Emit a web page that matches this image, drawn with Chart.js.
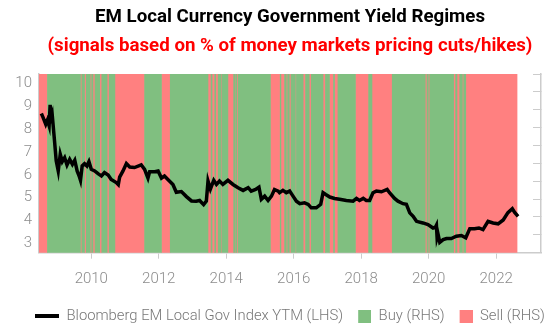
<!DOCTYPE html>
<html lang="en">
  <head>
    <meta charset="UTF-8" />
    <title>EM Local Currency Government Yield Regimes</title>
    <script src="https://cdn.jsdelivr.net/npm/chart.js@4.4.1/dist/chart.umd.min.js"></script>
    <style>
      body { margin: 0; background: #fff; }
      #wrap { width: 554px; height: 335px; }
    </style>
  </head>
  <body>
    <div id="wrap"><canvas id="chart"></canvas></div>
    <script>
      // Bloomberg EM local gov index yield (decimal years)
      var yieldDates = [2008.52, 2008.57, 2008.65, 2008.70, 2008.75, 2008.78, 2008.81, 2008.84, 2008.91, 2008.96,
        2009.02, 2009.08, 2009.14, 2009.21, 2009.28, 2009.36, 2009.44, 2009.51, 2009.58, 2009.64,
        2009.68, 2009.73, 2009.80, 2009.87, 2009.93, 2010.00, 2010.10, 2010.20, 2010.30, 2010.39,
        2010.50, 2010.59, 2010.74, 2010.80, 2010.84, 2010.94, 2011.04, 2011.14, 2011.28, 2011.48,
        2011.58, 2011.68, 2011.73, 2011.88, 2011.98, 2012.08, 2012.17, 2012.27, 2012.42, 2012.52,
        2012.67, 2012.82, 2012.97, 2013.11, 2013.21, 2013.33, 2013.41, 2013.46, 2013.53, 2013.63,
        2013.71, 2013.80, 2013.90, 2014.05, 2014.20, 2014.35, 2014.50, 2014.65, 2014.74, 2014.87,
        2014.97, 2015.04, 2015.14, 2015.24, 2015.34, 2015.43, 2015.54, 2015.58, 2015.68, 2015.78,
        2015.88, 2015.98, 2016.08, 2016.18, 2016.32, 2016.43, 2016.52, 2016.67, 2016.80, 2016.87,
        2016.95, 2017.07, 2017.21, 2017.36, 2017.56, 2017.76, 2017.86, 2017.95, 2018.06, 2018.15,
        2018.25, 2018.35, 2018.45, 2018.60, 2018.77, 2018.84, 2018.99, 2019.09, 2019.24, 2019.34,
        2019.44, 2019.54, 2019.64, 2019.83, 2019.98, 2020.13, 2020.20, 2020.23, 2020.25, 2020.28,
        2020.33, 2020.43, 2020.53, 2020.67, 2020.82, 2020.97, 2021.10, 2021.22, 2021.36, 2021.49,
        2021.61, 2021.76, 2021.91, 2022.06, 2022.21, 2022.35, 2022.48, 2022.55, 2022.65];
      var yieldValues = [8.68, 8.51, 8.21, 8.39, 8.14, 9.06, 8.51, 8.65, 7.48, 6.61,
        6.17, 6.90, 6.58, 6.75, 6.43, 6.68, 6.46, 6.64, 6.17, 5.95,
        5.76, 6.39, 6.49, 6.39, 6.58, 6.24, 6.17, 6.05, 5.95, 6.10,
        5.99, 5.80, 5.66, 5.57, 5.90, 6.17, 6.49, 6.34, 6.32, 6.44,
        6.24, 5.86, 6.14, 6.14, 6.17, 5.86, 5.95, 5.80, 5.58, 5.24,
        5.27, 5.05, 4.86, 4.85, 4.88, 4.70, 4.85, 5.73, 5.38, 5.76,
        5.58, 5.73, 5.58, 5.76, 5.58, 5.44, 5.32, 5.44, 5.29, 5.36,
        5.46, 4.93, 5.07, 4.88, 5.07, 5.36, 5.29, 5.22, 5.32, 5.22,
        5.29, 5.07, 4.85, 4.74, 4.78, 4.71, 4.56, 4.56, 4.71, 5.22,
        5.14, 5.03, 4.97, 4.93, 4.88, 4.85, 4.97, 4.88, 4.97, 4.88,
        4.88, 5.22, 5.29, 5.26, 5.36, 5.22, 4.97, 4.85, 4.74, 4.71,
        4.34, 4.19, 3.97, 3.90, 3.83, 3.68, 3.71, 3.80, 3.25, 3.40,
        3.05, 3.17, 3.22, 3.22, 3.32, 3.35, 3.25, 3.65, 3.65, 3.68,
        3.61, 3.97, 3.90, 3.86, 4.03, 4.35, 4.52, 4.36, 4.19];

      // regime signal: each period runs from its start to the next start
      var regimeStart = [2008.45, 2008.70, 2009.68, 2009.72, 2009.80, 2009.85, 2009.97, 2010.01, 2010.05, 2010.11,
        2010.25, 2010.31, 2010.47, 2010.53, 2010.70, 2011.58, 2012.08, 2012.34, 2013.46, 2013.55,
        2013.58, 2013.66, 2013.69, 2013.76, 2013.84, 2013.87, 2014.05, 2014.22, 2014.25, 2014.28,
        2014.31, 2014.35, 2015.31, 2015.60, 2015.62, 2015.73, 2015.78, 2015.82, 2015.87, 2015.92,
        2016.05, 2016.08, 2016.28, 2016.35, 2016.46, 2016.52, 2016.87, 2016.94, 2017.06, 2017.18,
        2017.21, 2017.31, 2017.83, 2018.22, 2018.32, 2018.92, 2019.90, 2019.95, 2019.99, 2020.03,
        2020.74, 2020.80, 2020.84, 2020.92, 2021.00, 2021.04, 2021.10];
      var regimeSignal = ["Sell", "Buy", "Sell", "Buy", "Sell", "Buy", "Sell", "Buy", "Sell", "Buy",
        "Sell", "Buy", "Sell", "Buy", "Sell", "Buy", "Sell", "Buy", "Sell", "Buy",
        "Sell", "Buy", "Sell", "Buy", "Sell", "Buy", "Sell", "Buy", "Sell", "Buy",
        "Sell", "Buy", "Sell", "Buy", "Sell", "Buy", "Sell", "Buy", "Sell", "Buy",
        "Sell", "Buy", "Sell", "Buy", "Sell", "Buy", "Sell", "Buy", "Sell", "Buy",
        "Sell", "Buy", "Sell", "Buy", "Sell", "Buy", "Sell", "Buy", "Sell", "Buy",
        "Sell", "Buy", "Sell", "Buy", "Sell", "Buy", "Sell"];
      var regimeEnd = 2022.62;

      var xTicks = [2010, 2012, 2014, 2016, 2018, 2020, 2022];
      var yTicks = [3, 4, 5, 6, 7, 8, 9, 10];

      var buyColor = "#80bf80";
      var sellColor = "#ff8080";

      function bands(signal) {
        var out = [];
        for (var i = 0; i < regimeStart.length; i++) {
          if (regimeSignal[i] !== signal) continue;
          var end = i + 1 < regimeStart.length ? regimeStart[i + 1] : regimeEnd;
          out.push({ x: [regimeStart[i], end], y: "r" });
        }
        return out;
      }

      // little legend glyphs
      function glyph(w, h, color, bx, bw, bh) {
        var c = document.createElement("canvas");
        c.width = w; c.height = h;
        var g = c.getContext("2d");
        g.fillStyle = color;
        g.fillRect(bx, (h - bh) / 2, bw, bh);
        return c;
      }

      // legend is centred on the plot area, not the canvas
      var shiftLegend = {
        id: "shiftLegend",
        afterLayout: function (chart) {
          var ca = chart.chartArea;
          var dx = (ca.left + ca.right) / 2 - chart.width / 2;
          chart.legend.left += dx;
          chart.legend.right += dx;
        }
      };

      var axisGray = "#cccccc";
      var tickFont = { family: "Roboto", size: 15, weight: "300" };

      new Chart("chart", {
        type: "line",
        data: {
          datasets: [
            {
              label: "Bloomberg EM Local Gov Index YTM (LHS)",
              data: yieldDates.map(function (d, i) { return { x: d, y: yieldValues[i] }; }),
              borderColor: "#000",
              backgroundColor: "#000",
              borderWidth: 3.5,
              pointRadius: 0,
              pointStyle: glyph(24, 4, "#000", 0, 24, 4),
              yAxisID: "y",
              order: 0
            },
            {
              type: "bar",
              label: "Buy (RHS)",
              indexAxis: "y",
              data: bands("Buy"),
              backgroundColor: buyColor,
              borderWidth: 0,
              grouped: false,
              barPercentage: 1,
              categoryPercentage: 1,
              xAxisID: "x",
              yAxisID: "yb",
              pointStyle: glyph(24, 13, buyColor, 11, 13, 13),
              order: 1
            },
            {
              type: "bar",
              label: "Sell (RHS)",
              indexAxis: "y",
              data: bands("Sell"),
              backgroundColor: sellColor,
              borderWidth: 0,
              grouped: false,
              barPercentage: 1,
              categoryPercentage: 1,
              xAxisID: "x",
              yAxisID: "yb",
              pointStyle: glyph(24, 13, sellColor, 11, 13, 13),
              order: 2
            }
          ]
        },
        plugins: [shiftLegend],
        options: {
          responsive: true,
          maintainAspectRatio: false,
          animation: false,
          layout: { padding: { left: 0, right: 0, top: 0, bottom: 1.5 } },
          plugins: {
            title: {
              display: true,
              fullSize: false,
              text: "EM Local Currency Government Yield Regimes",
              color: "#000",
              font: { family: "Roboto", size: 18.7, weight: "bold" },
              padding: { top: 5.8, bottom: 0 }
            },
            subtitle: {
              display: true,
              fullSize: false,
              text: "(signals based on % of money markets pricing cuts/hikes)",
              color: "#ff0000",
              font: { family: "Roboto", size: 18.7, weight: "bold" },
              padding: { top: 6.6, bottom: 16.8 }
            },
            legend: {
              position: "bottom",
              labels: {
                usePointStyle: true,
                pointStyleWidth: 24,
                boxHeight: 13,
                color: "#777",
                font: { family: "Roboto", size: 14.8, weight: "300" },
                padding: 4
              }
            },
            tooltip: { enabled: false }
          },
          scales: {
            x: {
              type: "linear",
              min: 2008.45,
              max: 2023.33,
              afterBuildTicks: function (s) { s.ticks = xTicks.map(function (v) { return { value: v }; }); },
              afterFit: function (s) { s.height = 52; },
              ticks: {
                color: "#8c8c8c",
                font: tickFont,
                padding: 12,
                maxRotation: 0,
                callback: function (v) { return String(v); }
              },
              grid: { drawOnChartArea: false, drawTicks: true, tickLength: 6, color: axisGray },
              border: { color: axisGray, width: 1.5 }
            },
            y: {
              type: "linear",
              position: "left",
              min: 2.6,
              max: 10.4,
              afterBuildTicks: function (s) { s.ticks = yTicks.map(function (v) { return { value: v }; }); },
              afterFit: function (s) { s.width = 39; },
              ticks: { color: "#8c8c8c", font: tickFont, padding: 15 },
              grid: { drawOnChartArea: false, drawTicks: true, tickLength: -8, color: axisGray },
              border: { color: axisGray, width: 1.5 }
            },
            yb: {
              type: "category",
              labels: ["r"],
              offset: true,
              display: false
            },
            y2: {
              type: "linear",
              position: "right",
              min: 0,
              max: 1,
              ticks: { display: false, stepSize: 0.1 },
              afterFit: function (s) { s.width = 13; },
              grid: { drawOnChartArea: false, drawTicks: true, tickLength: -8, color: axisGray },
              border: { color: axisGray, width: 1.5 }
            }
          }
        }
      });
    </script>
  </body>
</html>
